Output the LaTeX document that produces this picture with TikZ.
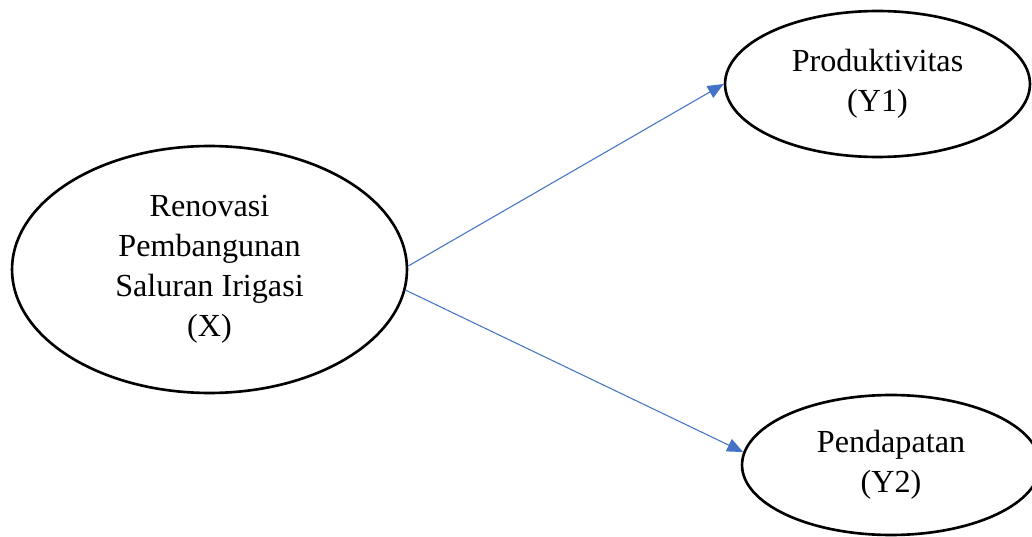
\documentclass[tikz,border=0pt]{standalone}
\usepackage{fontspec}
\setmainfont{Liberation Serif}
\usetikzlibrary{shapes.geometric,arrows.meta}
\definecolor{arrowblue}{RGB}{68,114,196}
\begin{document}
\begin{tikzpicture}[x=0.02cm,y=-0.02cm,
  var/.style={draw,ellipse,line width=1.5pt,inner sep=0pt,align=center,
    font=\fontsize{18.3}{22.8}\selectfont},
  arrow/.style={draw=arrowblue,line width=0.6pt,
    -{Triangle[length=0.32cm,width=0.27cm,fill=arrowblue]}}]

\useasboundingbox (0,0) rectangle (1032,537);

\draw (209.5,269.5) node[var,minimum width=7.9cm,minimum height=4.94cm] (X) {Renovasi\\Pembangunan\\Saluran Irigasi\\(X)};
\draw (877.5,84) node[var,minimum width=6.1cm,minimum height=2.92cm] (Y1) {Produktivitas\\(Y1)};
\draw (891,465) node[var,minimum width=5.96cm,minimum height=2.8cm] (Y2) {Pendapatan\\(Y2)};

\draw[arrow] (X.1) -- (Y1.west);
\draw[arrow] (X.-6) -- (Y2.175);
\end{tikzpicture}
\end{document}
